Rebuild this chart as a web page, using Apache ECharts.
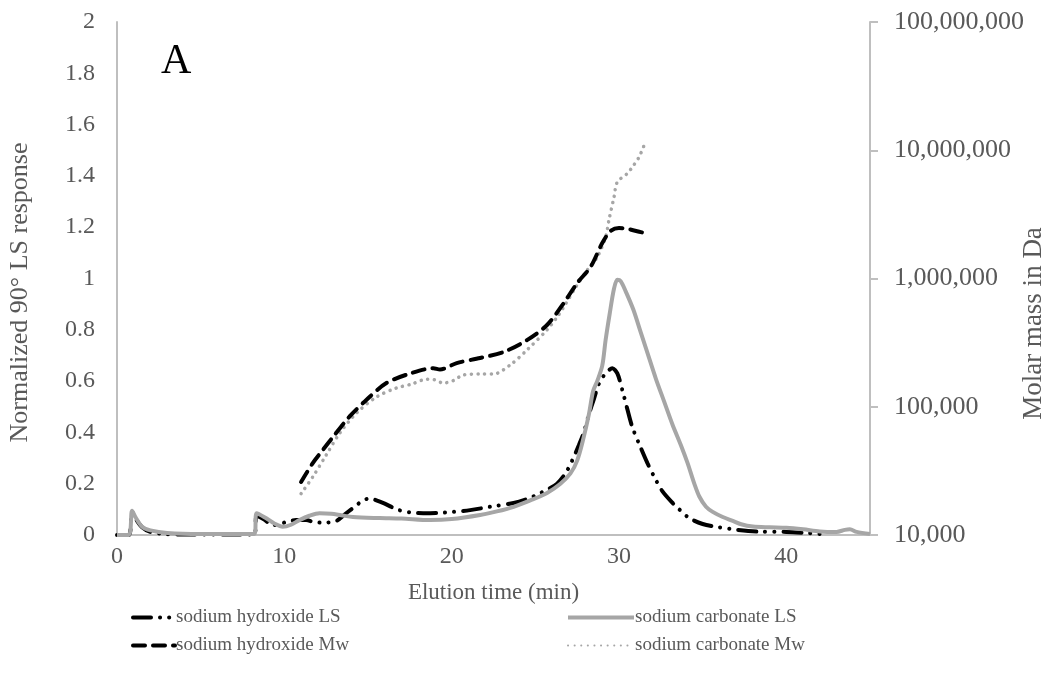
<!DOCTYPE html>
<html>
<head>
<meta charset="utf-8">
<script src="https://cdn.jsdelivr.net/npm/echarts@6/dist/echarts.min.js"></script>
<style>
  html, body { margin: 0; padding: 0; background: #fff; }
  #chart { width: 1050px; height: 682px; }
</style>
</head>
<body>
<div id="chart"></div>
<script>
// elution time (min) vs normalized 90° LS response
const naohLS = [
  [0, 0], [0.7, 0], [0.9, 0.09], [1.1, 0.065], [1.5, 0.03], [2, 0.012], [2.8, 0.004], [4, 0.002],
  [8.2, 0.002], [8.35, 0.075], [8.8, 0.06], [9.3, 0.038], [10.1, 0.05], [10.7, 0.058], [11.3, 0.058],
  [11.8, 0.05], [12.3, 0.048], [13.1, 0.055], [13.6, 0.08], [14.1, 0.105], [14.6, 0.13], [15.1, 0.143],
  [15.5, 0.135], [16.0, 0.122], [16.8, 0.098], [17.5, 0.088], [18.3, 0.085], [19.2, 0.086], [20.1, 0.09],
  [21.1, 0.097], [22.3, 0.11], [23.7, 0.125], [24.5, 0.14], [25.1, 0.157], [25.8, 0.18], [26.3, 0.2],
  [26.8, 0.24], [27.2, 0.29], [27.6, 0.35], [27.9, 0.4], [28.2, 0.47], [28.5, 0.53], [28.8, 0.59],
  [29.2, 0.63], [29.6, 0.65], [29.9, 0.63], [30.2, 0.565], [30.5, 0.49], [30.8, 0.42], [31.3, 0.34],
  [31.7, 0.28], [32.2, 0.215], [32.6, 0.17], [33.2, 0.125], [33.6, 0.1], [34.2, 0.066], [35.0, 0.043],
  [35.9, 0.031], [37.1, 0.02], [38.4, 0.013], [40, 0.012], [41.2, 0.008], [42.4, 0.002]
];

const na2co3LS = [
  [0, 0], [0.7, 0], [0.9, 0.095], [1.1, 0.07], [1.5, 0.032], [2, 0.018], [3, 0.008], [5, 0.004],
  [8.2, 0.004], [8.35, 0.085], [8.9, 0.066], [9.4, 0.045], [9.9, 0.032], [10.4, 0.04], [10.9, 0.058],
  [11.5, 0.075], [12.1, 0.085], [12.8, 0.083], [13.4, 0.077], [14.1, 0.07], [15.7, 0.066], [17, 0.064],
  [18.7, 0.058], [20, 0.062], [21.7, 0.078], [22.7, 0.092], [23.7, 0.11], [24.7, 0.135], [25.7, 0.164],
  [26.5, 0.2], [27.1, 0.24], [27.5, 0.29], [27.85, 0.37], [28.2, 0.47], [28.45, 0.56], [28.7, 0.6],
  [29.0, 0.66], [29.2, 0.76], [29.45, 0.865], [29.7, 0.96], [29.9, 0.995], [30.1, 0.99], [30.4, 0.95],
  [30.85, 0.88], [31.3, 0.79], [31.7, 0.71], [32.2, 0.61], [32.7, 0.52], [33.2, 0.43], [33.7, 0.35],
  [34.1, 0.28], [34.5, 0.2], [34.8, 0.15], [35.2, 0.11], [35.6, 0.09], [36.2, 0.07], [36.8, 0.055],
  [37.3, 0.042], [38, 0.033], [39, 0.03], [40, 0.028], [41, 0.022], [42, 0.014], [43, 0.012],
  [43.5, 0.02], [43.8, 0.022], [44.2, 0.012], [45, 0.004]
];

// elution time (min) vs molar mass (Da)
const naohMw = [
  [11, 25900], [11.7, 36400], [12.3, 46000], [12.9, 58000], [13.9, 84000], [14.9, 113000],
  [16.1, 153000], [17.6, 183000], [18.9, 200000], [19.3, 195000], [20.3, 219000], [21.7, 240000],
  [23.1, 267000], [24.5, 331000], [25.7, 434000], [26.7, 644000], [27.5, 922000], [28.3, 1230000],
  [29.0, 1890000], [29.5, 2350000], [30.0, 2480000], [30.6, 2420000], [31.3, 2300000], [31.6, 2250000]
];

const na2co3Mw = [
  [11, 21000], [11.7, 28400], [12.5, 42000], [13.3, 62000], [14.3, 89000], [15.5, 119000],
  [16.7, 140000], [17.6, 150000], [18.5, 164000], [19.0, 162000], [19.5, 153000], [20.1, 160000],
  [20.7, 177000], [21.7, 180000], [22.5, 180000], [23.5, 212000], [24.5, 277000], [25.7, 398000],
  [26.3, 500000], [26.7, 600000], [27.4, 850000], [28.1, 1160000], [28.7, 1470000], [29.2, 2100000],
  [29.4, 2860000], [29.7, 4300000], [29.9, 5650000], [30.5, 6600000], [30.8, 7400000],
  [31.2, 8860000], [31.6, 11800000]
];

const seriesNames = [
  "sodium hydroxide LS",
  "sodium hydroxide Mw",
  "sodium carbonate LS",
  "sodium carbonate Mw",
];

const FONT = "Liberation Serif";
const TXT = "#595959";
const AXIS = "#bfbfbf";
const GREY = "#a6a6a6";

const myChart = echarts.init(document.getElementById("chart"));

// legend: two columns, line samples only (no symbol)
const legendBase = {
  orient: "vertical",
  top: 603,
  itemHeight: 14,
  itemGap: 9,
  itemStyle: { opacity: 0 },
  textStyle: { fontFamily: FONT, fontSize: 19, color: TXT, padding: [0, 0, 0, -4] },
};

const options = {
  animation: false,
  textStyle: { fontFamily: FONT },
  title: {
    text: "A",
    left: 156,
    top: 36,
    textStyle: { fontFamily: FONT, fontSize: 42, fontWeight: "normal", color: "#000" },
  },
  grid: { left: 117, right: 180, top: 22, bottom: 147, outerBoundsMode: "none" },
  legend: [
    {
      ...legendBase,
      left: 126,
      itemWidth: 42,
      data: [
        { name: seriesNames[0], lineStyle: { width: 4 } },
        { name: seriesNames[1], lineStyle: { width: 4 } },
      ],
    },
    {
      ...legendBase,
      left: 561,
      itemWidth: 66,
      data: [
        { name: seriesNames[2], lineStyle: { width: 4 } },
        { name: seriesNames[3], lineStyle: { width: 2 } },
      ],
    },
  ],
  xAxis: {
    type: "value",
    min: 0,
    max: 45,
    interval: 10,
    name: "Elution time (min)",
    nameLocation: "middle",
    nameGap: 46,
    nameMoveOverlap: false,
    nameTextStyle: { fontFamily: FONT, fontSize: 23, color: TXT },
    axisLine: { lineStyle: { color: AXIS, width: 2 } },
    axisTick: { show: false },
    splitLine: { show: false },
    axisLabel: {
      fontFamily: FONT,
      fontSize: 24,
      color: TXT,
      margin: 10,
      formatter: (v) => (v % 10 === 0 ? v : ""),
    },
  },
  yAxis: [
    {
      type: "value",
      min: 0,
      max: 2,
      interval: 0.2,
      name: "Normalized 90° LS response",
      nameLocation: "middle",
      nameRotate: 90,
      nameGap: 84,
      nameMoveOverlap: false,
      nameTextStyle: { fontFamily: FONT, fontSize: 26, color: TXT, padding: [0, 28, 0, 0] },
      axisLine: { show: true, lineStyle: { color: AXIS, width: 2 } },
      axisTick: { show: false },
      splitLine: { show: false },
      axisLabel: { fontFamily: FONT, fontSize: 24, color: TXT, margin: 22 },
    },
    {
      type: "log",
      logBase: 10,
      min: 10000,
      max: 100000000,
      position: "right",
      name: "Molar mass in Da",
      nameLocation: "middle",
      nameRotate: 90,
      nameGap: 150,
      nameMoveOverlap: false,
      nameTextStyle: { fontFamily: FONT, fontSize: 27, color: TXT, padding: [0, 90, 0, 0] },
      axisLine: { show: true, lineStyle: { color: AXIS, width: 2 } },
      axisTick: { show: true, length: 8, lineStyle: { color: AXIS, width: 2 } },
      splitLine: { show: false },
      axisLabel: {
        fontFamily: FONT,
        fontSize: 26,
        color: TXT,
        margin: 24,
        formatter: (v) => Math.round(v).toLocaleString("en-US"),
      },
    },
  ],
  series: [
    {
      name: seriesNames[0],
      type: "line",
      yAxisIndex: 0,
      data: naohLS,
      symbol: "none",
      smooth: 0.3,
      z: 3,
      lineStyle: { color: "#000", width: 4, type: [18, 9, 0.1, 9, 0.1, 9], cap: "round" },
      itemStyle: { color: "#000" },
    },
    {
      name: seriesNames[1],
      type: "line",
      yAxisIndex: 1,
      data: naohMw,
      symbol: "none",
      smooth: 0.3,
      z: 3,
      lineStyle: { color: "#000", width: 4, type: [12, 8], cap: "round" },
      itemStyle: { color: "#000" },
    },
    {
      name: seriesNames[2],
      type: "line",
      yAxisIndex: 0,
      data: na2co3LS,
      symbol: "none",
      smooth: 0.3,
      z: 4,
      lineStyle: { color: GREY, width: 4 },
      itemStyle: { color: GREY },
    },
    {
      name: seriesNames[3],
      type: "line",
      yAxisIndex: 1,
      data: na2co3Mw,
      symbol: "none",
      smooth: 0.3,
      z: 2,
      lineStyle: { color: GREY, width: 3.5, type: [0.1, 6.5], cap: "round" },
      itemStyle: { color: GREY },
    },
  ],
};

myChart.setOption(options);
</script>
</body>
</html>
